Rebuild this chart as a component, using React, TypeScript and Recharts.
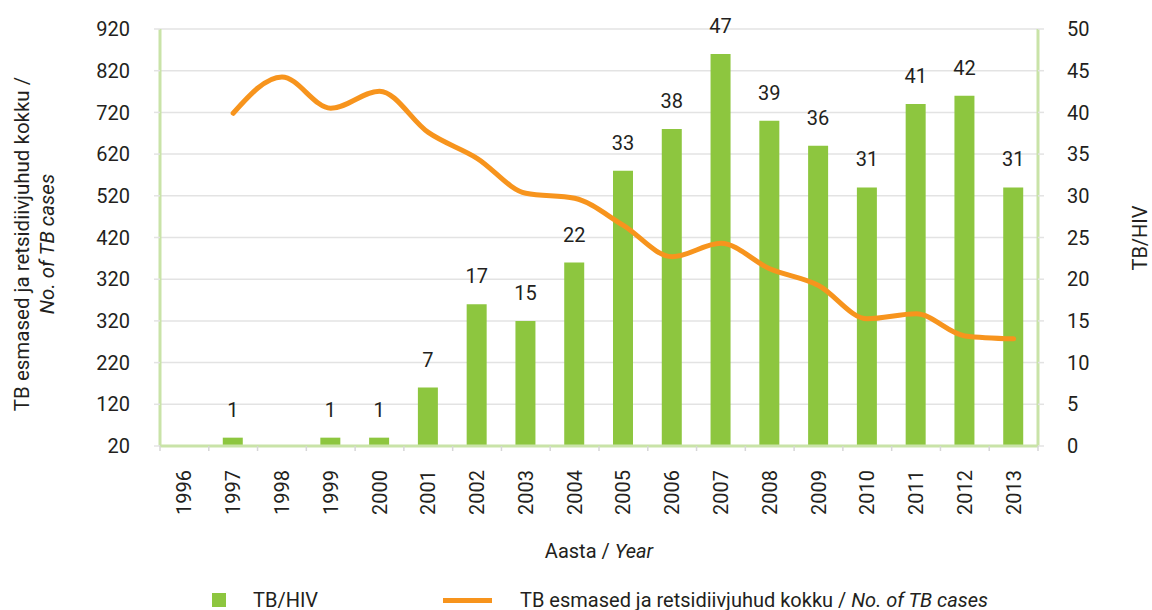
import React from 'react';
import { ComposedChart, Bar, Line, XAxis, YAxis, CartesianGrid, LabelList } from 'recharts';

const years = ['1996', '1997', '1998', '1999', '2000', '2001', '2002', '2003', '2004', '2005', '2006', '2007', '2008', '2009', '2010', '2011', '2012', '2013'];
const tbHiv = [0, 1, 0, 1, 1, 7, 17, 15, 22, 33, 38, 47, 39, 36, 31, 41, 42, 31];
const tbCases: (number | null)[] = [null, 818, 905, 830, 871, 772, 710, 626, 614, 549, 474, 506, 445, 405, 325, 337, 284, 277];
const leftTicks = [20, 120, 220, 320, 420, 520, 620, 720, 820, 920, 1020];
const leftTickLabels = ['20', '120', '220', '320', '320', '420', '520', '620', '720', '820', '920'];
const rightTicks = [0, 5, 10, 15, 20, 25, 30, 35, 40, 45, 50];

const barName = 'TB/HIV';
const lineName = 'TB esmased ja retsidiivjuhud kokku / ';
const lineNameItalic = 'No. of TB cases';

const data = years.map((y, i) => ({ year: y, hiv: tbHiv[i], cases: tbCases[i] }));

const FONT = 'Roboto, "DejaVu Sans", sans-serif';
const TXT = '#231f20';
const GREEN = '#8dc63f';
const ORANGE = '#f7941d';
const AXISGREEN = '#c9e3a8';
const GRID = '#e3e3e3';

const W = 1152;
const H = 610;
const LEFT_W = 160;
const RIGHT_W = 114;
const TOP = 29;
const X_H = 164;
const BAND = (W - LEFT_W - RIGHT_W) / years.length;

const XTick = (props: any) => {
  const { x, y, payload, index } = props;
  const bx = x - BAND / 2;
  return (
    <g>
      <line x1={bx} y1={y} x2={bx} y2={y + 5} stroke="#d6d6d6" strokeWidth={1.5} />
      {index === years.length - 1 && (
        <line x1={x + BAND / 2} y1={y} x2={x + BAND / 2} y2={y + 5} stroke="#d6d6d6" strokeWidth={1.5} />
      )}
      <text
        x={x}
        y={y + 24}
        transform={`rotate(-90, ${x}, ${y + 24})`}
        textAnchor="end"
        dominantBaseline="central"
        fontSize={20}
        fill={TXT}
        fontFamily={FONT}
      >
        {payload.value}
      </text>
    </g>
  );
};

const BarLabel = (props: any) => {
  const { x, y, width, value } = props;
  if (!value) return null;
  return (
    <text x={x + width / 2} y={y - 21} textAnchor="middle" fontSize={20} fill={TXT} fontFamily={FONT}>
      {value}
    </text>
  );
};

const LeftLabel = () => {
  const cy = 244;
  return (
    <g fontFamily={FONT} fontSize={20.5} fill={TXT}>
      <text x={22} y={cy} transform={`rotate(-90, 22, ${cy})`} textAnchor="middle" dominantBaseline="central">
        TB esmased ja retsidiivjuhud kokku /
      </text>
      <text x={47} y={cy} transform={`rotate(-90, 47, ${cy})`} textAnchor="middle" dominantBaseline="central" fontStyle="italic">
        No. of TB cases
      </text>
    </g>
  );
};

const RightLabel = () => (
  <text x={1140} y={238} transform="rotate(-90, 1140, 238)" textAnchor="middle" dominantBaseline="central" fontFamily={FONT} fontSize={20} fill={TXT}>
    TB/HIV
  </text>
);

const XLabel = (props: any) => {
  const vb = props.viewBox || {};
  const cx = vb.x + vb.width / 2;
  return (
    <text x={cx} y={vb.y + 105} textAnchor="middle" dominantBaseline="central" fontFamily={FONT} fontSize={20} fill={TXT}>
      Aasta / <tspan fontStyle="italic">Year</tspan>
    </text>
  );
};

export default function App() {
  return (
    <div style={{ position: 'absolute', left: 0, top: 0, width: W, height: H, background: '#fff', fontFamily: FONT }}>
      <ComposedChart width={W} height={H} data={data} margin={{ top: TOP, right: 0, left: 0, bottom: 0 }}>
        <CartesianGrid yAxisId="left" vertical={false} stroke={GRID} strokeWidth={1.5} />
        <XAxis
          dataKey="year"
          height={X_H}
          tickSize={0}
          tickMargin={0}
          tickLine={false}
          axisLine={{ stroke: AXISGREEN, strokeWidth: 3 }}
          tick={<XTick />}
          interval={0}
          label={<XLabel />}
        />
        <YAxis
          yAxisId="left"
          orientation="left"
          width={LEFT_W}
          domain={[20, 1020]}
          ticks={leftTicks}
          interval={0}
          tickFormatter={(v: number) => leftTickLabels[leftTicks.indexOf(v)]}
          tickSize={6}
          tickMargin={24}
          tickLine={{ stroke: GRID, strokeWidth: 1.5 }}
          axisLine={{ stroke: AXISGREEN, strokeWidth: 3 }}
          tick={{ fontSize: 20, fill: TXT, fontFamily: FONT }}
          label={<LeftLabel />}
        />
        <YAxis
          yAxisId="right"
          orientation="right"
          width={RIGHT_W}
          domain={[0, 50]}
          ticks={rightTicks}
          interval={0}
          tickSize={6}
          tickMargin={23}
          tickLine={{ stroke: GRID, strokeWidth: 1.5 }}
          axisLine={{ stroke: AXISGREEN, strokeWidth: 3 }}
          tick={{ fontSize: 20, fill: TXT, fontFamily: FONT, textAnchor: 'start' }}
          label={<RightLabel />}
        />
        <Bar yAxisId="right" dataKey="hiv" name={barName} fill={GREEN} barSize={20} isAnimationActive={false}>
          <LabelList dataKey="hiv" content={<BarLabel />} />
        </Bar>
        <Line
          yAxisId="left"
          type="monotone"
          dataKey="cases"
          name={lineName + lineNameItalic}
          stroke={ORANGE}
          strokeWidth={5}
          strokeLinecap="round"
          dot={false}
          activeDot={false}
          connectNulls={false}
          isAnimationActive={false}
        />
      </ComposedChart>
      <div style={{ position: 'absolute', left: 212, top: 593, width: 14, height: 14, background: GREEN }} />
      <div style={{ position: 'absolute', left: 253, top: 588, fontSize: 20, lineHeight: '24px', color: TXT, whiteSpace: 'nowrap' }}>{barName}</div>
      <div style={{ position: 'absolute', left: 443, top: 598, width: 49, height: 5, background: ORANGE }} />
      <div style={{ position: 'absolute', left: 520, top: 588, fontSize: 20, lineHeight: '24px', color: TXT, whiteSpace: 'nowrap' }}>
        {lineName}<i>{lineNameItalic}</i>
      </div>
    </div>
  );
}
